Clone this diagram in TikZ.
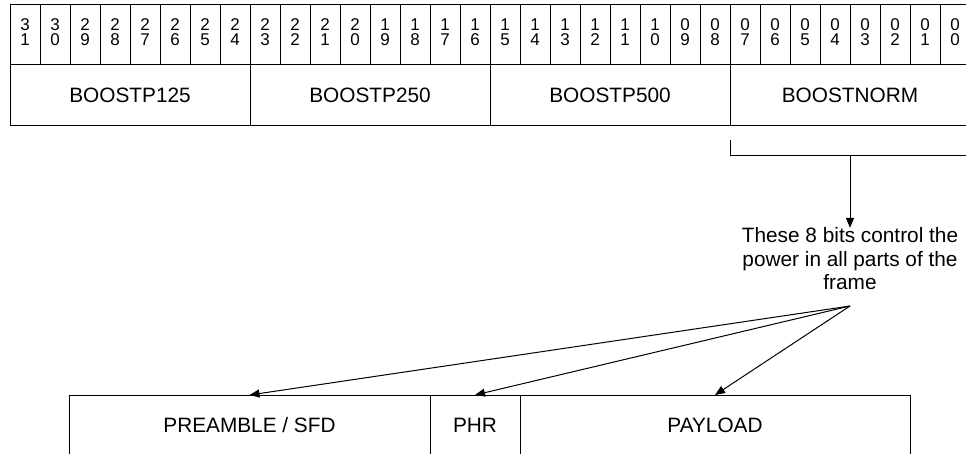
\documentclass[tikz,border=0pt]{standalone}
\usepackage{fontspec}
\setmainfont{Liberation Sans}
\usetikzlibrary{arrows.meta}
\begin{document}
\begin{tikzpicture}[x=1pt,y=-1pt,
  every node/.style={inner sep=0pt, outer sep=0pt},
  bitcell/.style={draw, line width=1pt, minimum width=30pt, minimum height=60pt},
  bitlabel/.style={font=\fontsize{17}{17}\selectfont, text height=12pt, text depth=0pt},
  fieldbox/.style={draw, line width=1pt, minimum width=240pt, minimum height=61pt,
    font=\fontsize{20.8}{23.5}\selectfont},
  framebox/.style={draw, line width=1pt, minimum height=80pt},
  framelabel/.style={font=\fontsize{20.8}{23.5}\selectfont},
  conn/.style={line width=1pt, -{Triangle[length=10pt,width=8pt]}},
  bracket/.style={line width=1pt}
]
\useasboundingbox (0,0) rectangle (966,454);
% bit cells
\foreach \i in {0,...,31}{
  \pgfmathtruncatemacro{\bit}{31-\i}
  \pgfmathtruncatemacro{\tens}{div(\bit,10)}
  \pgfmathtruncatemacro{\ones}{mod(\bit,10)}
  \node[bitcell] (b\bit) at ({25+30*\i},35) {};
  \node[bitlabel] (t\bit) at ({25+30*\i},24.2) {\tens};
  \node[bitlabel] (u\bit) at ({25+30*\i},39.2) {\ones};
}
% fields
\node[fieldbox] (f1) at (130,95.5) {BOOSTP125};
\node[fieldbox] (f2) at (370,95.5) {BOOSTP250};
\node[fieldbox] (f3) at (610,95.5) {BOOSTP500};
\node[fieldbox] (f4) at (850,95.5) {BOOSTNORM};
% bracket
\coordinate (bt) at (730,140);
\coordinate (bc) at (730,156);
\coordinate (br) at (970,156);
\coordinate (bm) at (850,156);
\draw[bracket] (bt) -- (bc) -- (br);
% note
\node[align=center, font=\fontsize{20.8}{23.5}\selectfont] (note) at (850,259) {These 8 bits control the\\power in all parts of the\\frame};
\draw[conn] (bm) -- (note.north);
% frame
\node[framebox, minimum width=361pt] (pre) at (249.5,435) {};
\node[framebox, minimum width=90pt] (phr) at (475,435) {};
\node[framebox, minimum width=390pt] (pay) at (715,435) {};
\node[framelabel] (tpre) at (249.5,425) {PREAMBLE / SFD};
\node[framelabel] (tphr) at (475,425) {PHR};
\node[framelabel] (tpay) at (715,425) {PAYLOAD};
\coordinate (src) at (850,306);
\draw[conn] (src) -- (pre.north);
\draw[conn] (src) -- (phr.north);
\draw[conn] (src) -- (pay.north);
\end{tikzpicture}
\end{document}
